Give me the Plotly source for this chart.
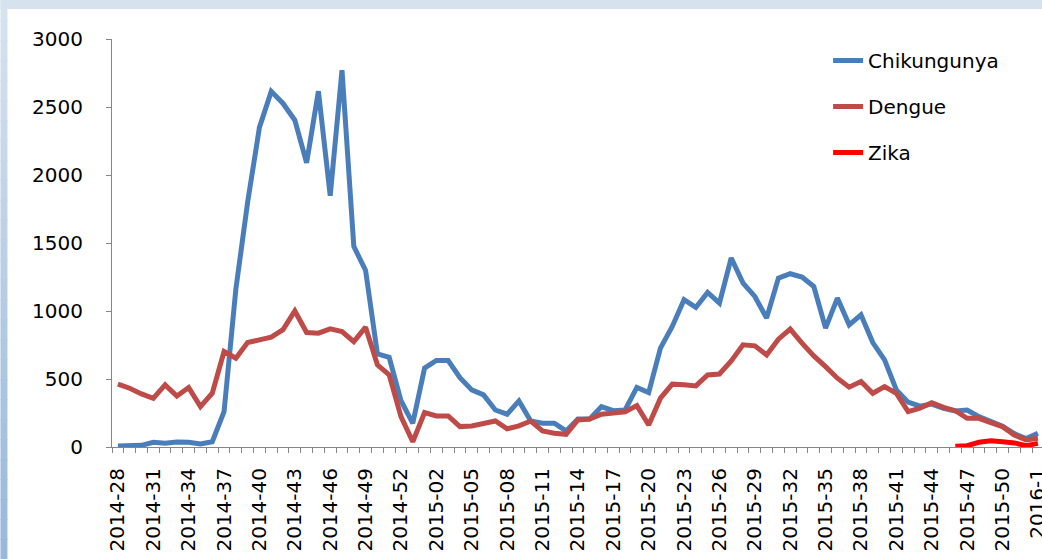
import plotly.graph_objects as go

weeks = [
    "2014-28", "2014-29", "2014-30", "2014-31", "2014-32", "2014-33", "2014-34", "2014-35",
    "2014-36", "2014-37", "2014-38", "2014-39", "2014-40", "2014-41", "2014-42", "2014-43",
    "2014-44", "2014-45", "2014-46", "2014-47", "2014-48", "2014-49", "2014-50", "2014-51",
    "2014-52", "2014-53",
    "2015-01", "2015-02", "2015-03", "2015-04", "2015-05", "2015-06", "2015-07", "2015-08",
    "2015-09", "2015-10", "2015-11", "2015-12", "2015-13", "2015-14", "2015-15", "2015-16",
    "2015-17", "2015-18", "2015-19", "2015-20", "2015-21", "2015-22", "2015-23", "2015-24",
    "2015-25", "2015-26", "2015-27", "2015-28", "2015-29", "2015-30", "2015-31", "2015-32",
    "2015-33", "2015-34", "2015-35", "2015-36", "2015-37", "2015-38", "2015-39", "2015-40",
    "2015-41", "2015-42", "2015-43", "2015-44", "2015-45", "2015-46", "2015-47", "2015-48",
    "2015-49", "2015-50", "2015-51", "2015-52", "2016-1",
]

chikungunya = [
    7, 10, 12, 35, 27, 37, 35, 22, 39, 260,
    1160, 1800, 2350, 2615, 2526, 2403, 2089, 2616, 1848, 2771,
    1475, 1298, 685, 660, 340, 174, 580, 636, 636, 510,
    420, 383, 272, 241, 339, 191, 175, 175, 118, 206,
    206, 297, 267, 272, 438, 400, 727, 886, 1083, 1026,
    1136, 1058, 1390, 1205, 1107, 948, 1242, 1274, 1250, 1180,
    874, 1095, 898, 972, 768, 641, 420, 330, 300, 315,
    285, 265, 272, 223, 186, 152, 98, 62, 101,
]

dengue = [
    462, 432, 390, 358, 457, 375, 437, 297, 395, 702,
    653, 768, 788, 808, 863, 1000, 842, 837, 869, 849,
    775, 881, 604, 530, 223, 39, 253, 228, 228, 150,
    155, 175, 191, 133, 155, 191, 118, 101, 93, 199,
    206, 241, 253, 258, 304, 162, 359, 462, 457, 449,
    530, 537, 633, 751, 744, 677, 793, 867, 764, 670,
    591, 506, 440, 481, 395, 444, 395, 260, 285, 326,
    292, 267, 211, 211, 179, 150, 88, 52, 64,
]

zika_weeks = ["2015-46", "2015-47", "2015-48", "2015-49", "2015-50", "2015-51", "2015-52", "2016-1"]
zika = [5, 10, 35, 45, 38, 30, 10, 27]

tick_labels = [
    "2014-28", "2014-31", "2014-34", "2014-37", "2014-40", "2014-43", "2014-46", "2014-49",
    "2014-52", "2015-02", "2015-05", "2015-08", "2015-11", "2015-14", "2015-17", "2015-20",
    "2015-23", "2015-26", "2015-29", "2015-32", "2015-35", "2015-38", "2015-41", "2015-44",
    "2015-47", "2015-50", "2016-1",
]

FONT = "DejaVu Sans"
W, H = 1042, 559
L, T, B = 111.6, 39, 447
PW, PH = W - L, B - T


def px(xp):
    return (xp - L) / PW


def py(yp):
    return (B - yp) / PH


x_idx = list(range(len(weeks)))
zika_idx = [weeks.index(w) for w in zika_weeks]
tickvals = [weeks.index(t) for t in tick_labels]

fig = go.Figure()
fig.add_trace(go.Scatter(x=x_idx, y=chikungunya, mode="lines", name="Chikungunya",
                         line=dict(color="#4a7ebb", width=5), legendgroup="a"))
fig.add_trace(go.Scatter(x=x_idx, y=dengue, mode="lines", name="Dengue",
                         line=dict(color="#be4b48", width=5), legendgroup="b"))
fig.add_trace(go.Scatter(x=zika_idx, y=zika, mode="lines", name="Zika",
                         line=dict(color="#ff0000", width=5), legendgroup="c"))

# decorative frame (light blue gradient border)
shapes = []
n = 28
top_c = (214, 227, 239)
bot_c = (152, 185, 218)
for k in range(n):
    t = k / (n - 1)
    c = tuple(round(top_c[j] + (bot_c[j] - top_c[j]) * t) for j in range(3))
    y0 = H * k / n
    y1 = H * (k + 1) / n + 1
    shapes.append(dict(type="rect", xref="paper", yref="paper", layer="below",
                       x0=px(0), x1=px(7), y0=py(y1), y1=py(y0),
                       fillcolor="rgb(%d,%d,%d)" % c, line=dict(width=0)))
shapes.append(dict(type="rect", xref="paper", yref="paper", layer="below",
                   x0=px(0), x1=px(W), y0=py(9), y1=py(0),
                   fillcolor="#d6e3ef", line=dict(width=0)))

fig.update_layout(
    width=W, height=H, autosize=False,
    margin=dict(l=L, r=0, t=T, b=H - B, pad=0),
    paper_bgcolor="white", plot_bgcolor="white",
    font=dict(family=FONT, size=20, color="#000000"),
    shapes=shapes,
    showlegend=True,
    legend=dict(x=px(828), y=py(41), xanchor="left", yanchor="top",
                bgcolor="rgba(0,0,0,0)", font=dict(family=FONT, size=20, color="#000000"),
                tracegroupgap=17, traceorder="grouped", itemwidth=30),
    xaxis=dict(
        range=[-0.5, (W - 117.5) / 11.8], showgrid=False, zeroline=False,
        showline=True, linecolor="#868686", linewidth=1,
        tickmode="array", tickvals=tickvals, ticktext=tick_labels,
        tickangle=-90, ticks="", ticklabelstandoff=12,
        ticklabeloverflow="allow",
        tickfont=dict(family=FONT, size=20, color="#000000"),
        minor=dict(tickmode="array", tickvals=[i - 0.5 for i in range(len(weeks) + 1)],
                   ticks="outside", ticklen=5, tickcolor="#868686", tickwidth=1, showgrid=False),
        automargin=False, fixedrange=True,
    ),
    yaxis=dict(
        range=[0, 3000], showgrid=False, zeroline=False,
        showline=True, linecolor="#868686", linewidth=1,
        tickmode="linear", tick0=0, dtick=500,
        ticks="outside", ticklen=5, tickcolor="#868686", tickwidth=1,
        ticklabelstandoff=19,
        tickfont=dict(family=FONT, size=20, color="#000000"),
        automargin=False, fixedrange=True,
    ),
)

fig.write_html(
    "out.html",
    config={"displayModeBar": False},
    post_script="document.body.style.margin='0';document.body.style.padding='0';"
                "document.body.style.overflow='hidden';"
                "document.documentElement.style.overflow='hidden';",
)
